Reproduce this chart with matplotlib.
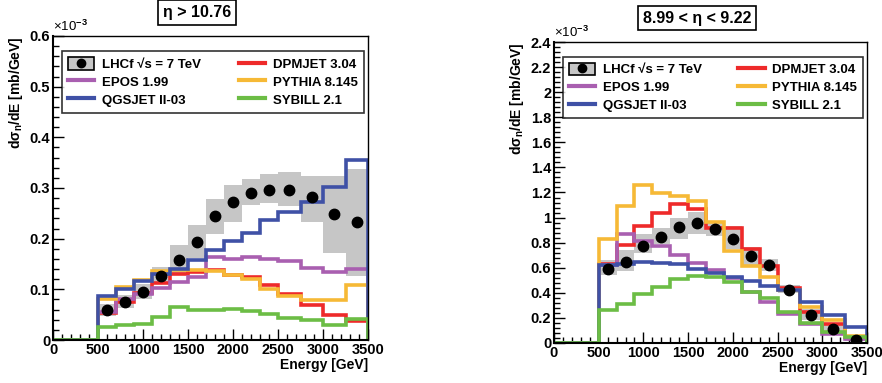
import numpy as np
import matplotlib
matplotlib.use('Agg')
import matplotlib.pyplot as plt
from matplotlib.patches import Patch
from matplotlib.lines import Line2D
from matplotlib.legend_handler import HandlerTuple
from matplotlib.ticker import MultipleLocator, FuncFormatter

plt.rcParams['font.family'] = ['Liberation Sans', 'DejaVu Sans']
plt.rcParams['font.weight'] = 'bold'
plt.rcParams['axes.labelweight'] = 'bold'
plt.rcParams['mathtext.fontset'] = 'custom'
plt.rcParams['mathtext.rm'] = 'Liberation Sans:bold'
plt.rcParams['mathtext.default'] = 'rm'

# energy bin edges [GeV], first bin 0-500 is empty
edges = [0, 500, 700, 900, 1100, 1300, 1500, 1700, 1900, 2100, 2300, 2500, 2750, 3000, 3250, 3500]

# left panel: eta > 10.76  (units of 1e-3 mb/GeV), bins from 500 GeV
left_data = [0.059, 0.075, 0.094, 0.126, 0.158, 0.194, 0.245, 0.272, 0.291, 0.297, 0.297, 0.283, 0.249, 0.232]
left_lo = [0.048, 0.064, 0.080, 0.110, 0.133, 0.162, 0.210, 0.233, 0.267, 0.270, 0.264, 0.233, 0.171, 0.127]
left_hi = [0.072, 0.088, 0.110, 0.145, 0.188, 0.226, 0.278, 0.306, 0.317, 0.328, 0.331, 0.324, 0.324, 0.337]
left_dpmjet = [0.054, 0.075, 0.092, 0.113, 0.131, 0.134, 0.138, 0.128, 0.125, 0.108, 0.090, 0.069, 0.050, 0.038]
left_epos = [0.055, 0.080, 0.090, 0.103, 0.115, 0.125, 0.163, 0.160, 0.163, 0.160, 0.156, 0.143, 0.135, 0.141]
left_qgsjet = [0.087, 0.101, 0.117, 0.131, 0.141, 0.158, 0.178, 0.195, 0.212, 0.237, 0.253, 0.273, 0.302, 0.355]
left_pythia = [0.081, 0.104, 0.118, 0.137, 0.138, 0.139, 0.137, 0.128, 0.120, 0.100, 0.087, 0.078, 0.078, 0.108]
left_sybill = [0.026, 0.030, 0.032, 0.046, 0.066, 0.060, 0.059, 0.061, 0.057, 0.051, 0.044, 0.039, 0.030, 0.041]

# right panel: 8.99 < eta < 9.22
right_data = [0.592, 0.645, 0.773, 0.848, 0.925, 0.960, 0.906, 0.826, 0.693, 0.619, 0.426, 0.220, 0.114, 0.026]
right_lo = [0.539, 0.573, 0.720, 0.786, 0.826, 0.872, 0.853, 0.746, 0.613, 0.573, 0.400, 0.186, 0.085, 0.013]
right_hi = [0.661, 0.738, 0.872, 0.920, 1.000, 1.047, 0.965, 0.930, 0.768, 0.672, 0.466, 0.272, 0.160, 0.058]
right_dpmjet = [0.630, 0.780, 0.930, 1.035, 1.110, 1.070, 0.920, 0.920, 0.746, 0.613, 0.440, 0.245, 0.154, 0.045]
right_epos = [0.620, 0.866, 0.813, 0.770, 0.700, 0.640, 0.586, 0.520, 0.410, 0.330, 0.230, 0.154, 0.074, 0.035]
right_qgsjet = [0.620, 0.627, 0.645, 0.640, 0.627, 0.592, 0.555, 0.528, 0.493, 0.453, 0.425, 0.325, 0.227, 0.125]
right_pythia = [0.826, 1.090, 1.258, 1.195, 1.170, 1.130, 0.963, 0.735, 0.613, 0.525, 0.420, 0.288, 0.181, 0.053]
right_sybill = [0.267, 0.307, 0.390, 0.445, 0.510, 0.538, 0.525, 0.485, 0.405, 0.360, 0.245, 0.160, 0.085, 0.045]

colors = {'DPMJET 3.04': '#ee2a2a', 'EPOS 1.99': '#a95fb0', 'QGSJET II-03': '#3f51a6',
          'PYTHIA 8.145': '#f6b936', 'SYBILL 2.1': '#6cbd45'}
box_gray = '#c6c6c6'


def draw_panel(ax, data, lo, hi, models, ymax, ymajor, yminor):
    e = np.array(edges, dtype=float)
    centers = (e[1:-1] + e[2:]) / 2
    widths = e[2:] - e[1:-1]
    lo = np.array(lo)
    hi = np.array(hi)
    ax.bar(centers, hi - lo, bottom=lo, width=widths, color=box_gray, zorder=1)
    for name in ['DPMJET 3.04', 'EPOS 1.99', 'PYTHIA 8.145', 'QGSJET II-03', 'SYBILL 2.1']:
        ax.stairs([0] + list(models[name]), e, color=colors[name], lw=2.6, zorder=2)
    ax.plot(centers, data, 'o', color='black', ms=7.5, zorder=3)

    ax.set_xlim(0, 3500)
    ax.set_ylim(0, ymax)
    ax.xaxis.set_major_locator(MultipleLocator(500))
    ax.xaxis.set_minor_locator(MultipleLocator(100))
    ax.yaxis.set_major_locator(MultipleLocator(ymajor))
    ax.yaxis.set_minor_locator(MultipleLocator(yminor))
    ax.yaxis.set_major_formatter(FuncFormatter(lambda v, p: '%g' % round(v, 3)))
    ax.tick_params(which='both', direction='in', top=False, right=False, labelsize=10.5, width=1)
    ax.tick_params(which='major', length=8, pad=2)
    ax.tick_params(which='minor', length=4)
    for s in ['left', 'bottom']:
        ax.spines[s].set_linewidth(1.5)
    for s in ['top', 'right']:
        ax.spines[s].set_linewidth(1.0)
    ax.set_xlabel('Energy [GeV]', loc='right', fontsize=10, labelpad=1)
    ax.set_ylabel('d\u03c3$_n$/dE [mb/GeV]', loc='top', fontsize=10, labelpad=3)
    ax.text(0.0, 1.005, '\u00d710$^{-3}$', transform=ax.transAxes, fontsize=9.5,
            fontweight='normal', ha='left', va='bottom')

    lhcf = (Patch(facecolor=box_gray, edgecolor='black', lw=1.2),
            Line2D([], [], marker='o', color='black', ls='none', ms=6))
    handles = [lhcf]
    labels = ['LHCf \u221as = 7 TeV']
    for name in ['EPOS 1.99', 'QGSJET II-03', 'DPMJET 3.04', 'PYTHIA 8.145', 'SYBILL 2.1']:
        handles.append(Line2D([], [], color=colors[name], lw=3))
        labels.append(name)
    leg = ax.legend(handles, labels, ncol=2, loc='lower left', bbox_to_anchor=(0.028, 0.748, 0.96, 0.225),
                    mode='expand', prop={'size': 9.5, 'weight': 'bold'}, frameon=True, fancybox=False,
                    borderaxespad=0, handlelength=2.0, handleheight=1.1, labelspacing=0.3,
                    handletextpad=0.6, columnspacing=1.0, borderpad=0.45,
                    handler_map={tuple: HandlerTuple(ndivide=1, pad=0)})
    leg.get_frame().set_edgecolor('black')
    leg.get_frame().set_linewidth(1.2)


fig = plt.figure(figsize=(8.82, 3.83), dpi=100)
ax1 = fig.add_axes([53 / 882, 1 - 340 / 383, 315 / 882, 304 / 383])
ax2 = fig.add_axes([554 / 882, 1 - 343 / 383, 313 / 882, 301 / 383])

draw_panel(ax1, left_data, left_lo, left_hi,
           {'DPMJET 3.04': left_dpmjet, 'EPOS 1.99': left_epos, 'QGSJET II-03': left_qgsjet,
            'PYTHIA 8.145': left_pythia, 'SYBILL 2.1': left_sybill}, 0.6, 0.1, 0.02)
draw_panel(ax2, right_data, right_lo, right_hi,
           {'DPMJET 3.04': right_dpmjet, 'EPOS 1.99': right_epos, 'QGSJET II-03': right_qgsjet,
            'PYTHIA 8.145': right_pythia, 'SYBILL 2.1': right_sybill}, 2.4, 0.2, 0.04)

box = dict(boxstyle='square,pad=0.3', fc='white', ec='black', lw=1.2)
fig.text(197 / 882, 1 - 12.5 / 383, '\u03b7 > 10.76', ha='center', va='center', fontsize=11.5,
         fontweight='bold', bbox=box)
fig.text(697 / 882, 1 - 18 / 383, '8.99 < \u03b7 < 9.22', ha='center', va='center', fontsize=11.5,
         fontweight='bold', bbox=box)

# make sure the tick labels come out bold
fig.canvas.draw()
for ax in (ax1, ax2):
    for lbl in ax.get_xticklabels() + ax.get_yticklabels():
        lbl.set_fontweight('bold')

fig.savefig('out.png', dpi=100)
